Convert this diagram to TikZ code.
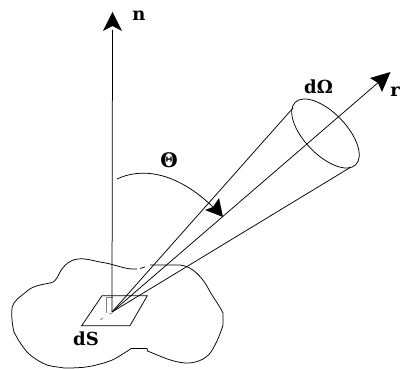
\documentclass[tikz,border=0pt]{standalone}
\usepackage{fontspec}
\setmainfont{DejaVu Serif}
\tikzset{
  line/.style={draw=black,line width=0.75pt},
  lab/.style={font=\bfseries\fontsize{18}{18}\selectfont,inner sep=0pt,text=black}
}
\begin{document}
\begin{tikzpicture}[x=1pt,y=-1pt]
\path[use as bounding box] (0,0) rectangle (400,369);
\begin{scope}
\clip (0,0) rectangle (400,369);
\coordinate (apex) at (112,312);
\coordinate (ntip) at (112.5,12);
\coordinate (rtip) at (390.5,72);
\coordinate (conea) at (293,108);
\coordinate (coneb) at (351,167);
% blob
\draw[line] (137,269) .. controls (125,270) and (115,264) .. (100,262)
  .. controls (90,260) and (84,258) .. (78,259)
  .. controls (70,260) and (65,264) .. (60,272)
  .. controls (56,280) and (55,282) .. (50,283)
  .. controls (40,285) and (32,286) .. (26,292)
  .. controls (20,297) and (13,301) .. (12,308)
  .. controls (11,318) and (13,328) .. (14,332)
  .. controls (18,340) and (22,346) .. (27,352)
  .. controls (33,358) and (40,362) .. (47,365)
  .. controls (53,367) and (60,367) .. (64,368)
  .. controls (72,368) and (82,368) .. (92,366)
  .. controls (100,364) and (110,362) .. (118,357)
  .. controls (124,353) and (128,351) .. (131,348.5)
  -- (147,348.5) -- (147.5,351)
  .. controls (160,356) and (172,362) .. (185,363)
  .. controls (195,363.5) and (205,360) .. (211,352)
  .. controls (216,344) and (220,335) .. (223,325)
  -- (223,313)
  .. controls (218,303) and (212,296) .. (208,288)
  .. controls (202,277) and (192,266) .. (180,265)
  -- (150,265);
\draw[line] (140,268.5) -- (145,267);
% parallelogram
\draw[line] (102,295.7) -- (147.3,295.7) -- (130,325.7) -- (81.7,325.7) -- cycle;
% right-angle mark
\draw[gray,line width=0.75pt] (113,297.7) -- (106.8,297.7) -- (106.8,313);
\draw[gray,line width=0.75pt] (100.5,320) -- (102.5,318);
\draw[gray,line width=0.75pt] (109,314) -- (112,313);
% normal
\draw[line] (apex) -- (112.5,30);
\fill (ntip) -- (122,31) -- (112.5,26) -- (103,31) -- cycle;
% cone
\draw[line] (apex) -- (conea);
\draw[line] (apex) -- (coneb);
\draw[line] (apex) -- (380,81);
\fill (rtip) -- (370,78) -- (378,83) -- (382,92) -- cycle;
\draw[line] (325.5,133.5) ellipse[x radius=43.5,y radius=21,rotate=-46];
% angle
\coordinate (thtip) at (223,217);
\draw[line] (117,179) .. controls (140,168) and (175,170) .. (214,208);
\fill (thtip) -- (205,210) -- (213,207) -- (219,198) -- cycle;
\end{scope}
\node[lab] (n) at (139,16) {n};
\node[lab] (dO) at (318.5,87) {dΩ};
\node[lab] (r) at (395,92) {r};
\node[lab,font=\bfseries\fontsize{20}{20}\selectfont] (th) at (169,160) {Θ};
\node[lab] (dS) at (86,339) {dS};
\end{tikzpicture}
\end{document}
